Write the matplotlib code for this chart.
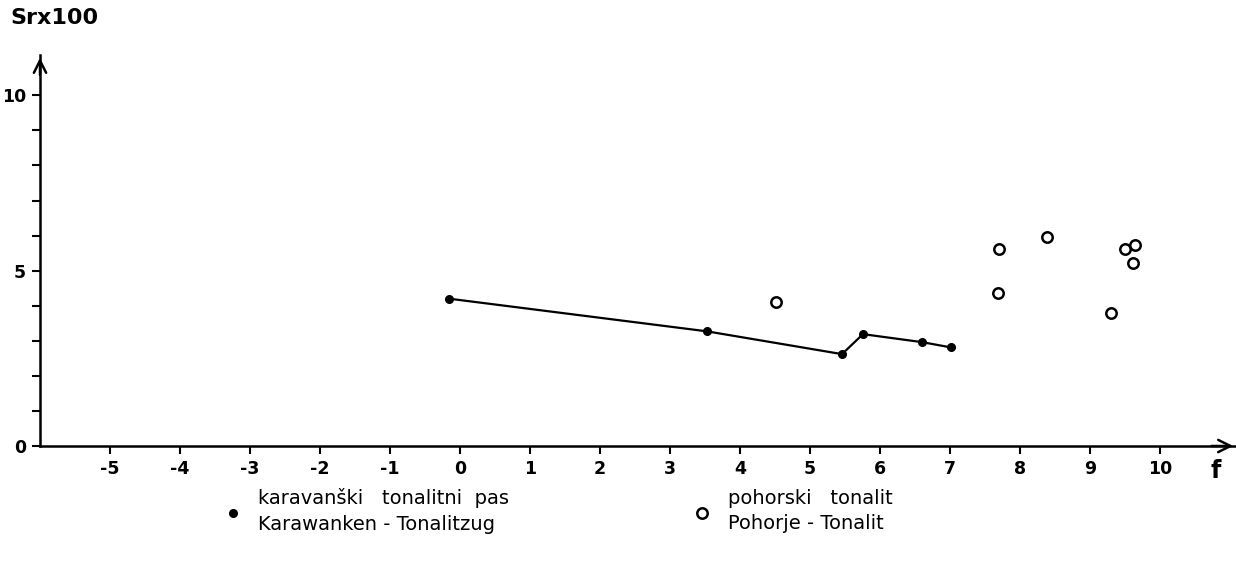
import matplotlib.pyplot as plt

# karavanski tonalitni pas (filled dots, joined by a line)
kar_f = [-0.15, 3.53, 5.46, 5.76, 6.61, 7.02]
kar_sr = [4.20, 3.27, 2.62, 3.19, 2.96, 2.81]

# pohorski tonalit (open circles)
poh_f = [4.51, 7.70, 7.69, 8.39, 9.30, 9.51, 9.64, 9.62]
poh_sr = [4.11, 5.61, 4.35, 5.95, 3.80, 5.63, 5.72, 5.22]

x_ticks = list(range(-5, 11))
x_labels = [str(t) for t in x_ticks]
y_ticks = list(range(0, 11))
y_labels = ['0', '', '', '', '', '5', '', '', '', '', '10']

legend_1 = 'karavanški   tonalitni  pas\nKarawanken - Tonalitzug'
legend_2 = 'pohorski   tonalit\nPohorje - Tonalit'

W, H = 1236, 571
fig = plt.figure(figsize=(W / 100, H / 100), dpi=100)
ax = fig.add_axes([40 / W, 125 / H, 1196 / W, 391 / H])
ax.set_xlim(-6, 11.09)
ax.set_ylim(0, 11.15)

# data
ax.plot(kar_f, kar_sr, '-o', color='k', lw=1.6, ms=5.5)
ax.plot(poh_f, poh_sr, 'o', ls='none', ms=7.5, mfc='white', mec='k', mew=1.8)

# axes with arrow heads
for s in ['top', 'right']:
    ax.spines[s].set_visible(False)
for s in ['left', 'bottom']:
    ax.spines[s].set_linewidth(1.8)
ax.annotate('', xy=(11.09, 0), xytext=(10.7, 0), annotation_clip=False,
            arrowprops=dict(arrowstyle='->', lw=1.8, mutation_scale=22))
ax.annotate('', xy=(-6, 11.15), xytext=(-6, 10.5), annotation_clip=False,
            arrowprops=dict(arrowstyle='->', lw=1.8, mutation_scale=22))

ax.set_xticks(x_ticks)
ax.set_xticklabels(x_labels, fontweight='bold')
ax.set_yticks(y_ticks)
ax.set_yticklabels(y_labels, fontweight='bold')
ax.tick_params(axis='both', direction='out', length=6, width=1.5,
               pad=4, labelsize=12.5)

fig.text(10 / W, 1 - 18 / H, 'Srx100', fontsize=16, fontweight='bold',
         va='center', ha='left')
fig.text(1216 / W, 1 - 471 / H, 'f', fontsize=17, fontweight='bold',
         va='center', ha='center')

# legend drawn in pixel space below the plot
lg = fig.add_axes([0, 0, 1, 1])
lg.set_xlim(0, W)
lg.set_ylim(H, 0)
lg.axis('off')
lg.plot(233, 513, 'o', color='k', ms=5.5)
lg.plot(702, 513, 'o', ms=7.5, mfc='white', mec='k', mew=1.8)
lg.text(258, 511, legend_1, fontsize=14, va='center', ha='left', linespacing=1.45)
lg.text(728, 511, legend_2, fontsize=14, va='center', ha='left', linespacing=1.45)

fig.savefig('out.png', dpi=100, facecolor='white')
